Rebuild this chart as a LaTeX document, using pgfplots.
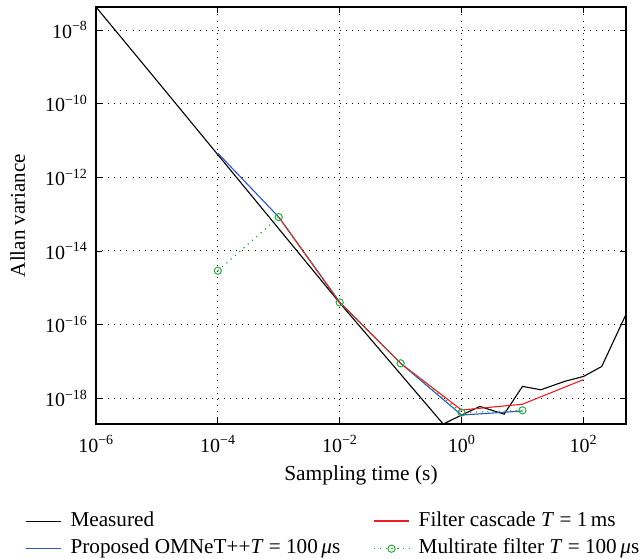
\documentclass[border=0pt]{standalone}
\usepackage{fontspec}
\setmainfont{Liberation Serif}
\usepackage{pgfplots}
\pgfplotsset{compat=1.18}
\definecolor{mblue}{RGB}{45,85,185}
\definecolor{mred}{RGB}{235,30,35}
\definecolor{mgreen}{RGB}{40,170,70}
\begin{document}
\begin{tikzpicture}[font=\fontsize{21}{25}\selectfont]
\begin{axis}[
 xmode=log, ymode=log,
 scale only axis, width=530pt, height=417pt,
 xmin=1e-6, xmax=500, ymin=2e-19, ymax=4.2e-8,
 xtick={1e-6,1e-4,1e-2,1,1e2},
 xticklabels={10\textsuperscript{−6},10\textsuperscript{−4},10\textsuperscript{−2},10\textsuperscript{0},10\textsuperscript{2}},
 ytick={1e-18,1e-16,1e-14,1e-12,1e-10,1e-8},
 yticklabels={10\textsuperscript{−18},10\textsuperscript{−16},10\textsuperscript{−14},10\textsuperscript{−12},10\textsuperscript{−10},10\textsuperscript{−8}},
 ticklabel style={font=\fontsize{20}{24}\selectfont},
 xticklabel style={yshift=-8pt},
 yticklabel style={xshift=-5pt},
 minor xtick={}, minor ytick={},
 grid=major,
 grid style={black, line width=0.9pt, dash pattern=on 0.9pt off 5.2pt},
 axis line style={line width=1.1pt},
 tick style={black, line width=0.8pt},
 major tick length=6pt,
 xlabel={Sampling time (s)},
 xlabel style={at={(axis description cs:0.5,-0.1343)}, anchor=base, font=\fontsize{21.4}{25}\selectfont},
 ylabel={Allan variance},
 ylabel style={at={(axis description cs:-0.134,0.5)}, anchor=base, rotate=0},
 legend columns=2,
 legend style={at={(-0.134,-0.2086)}, anchor=north west, draw=none, fill=none,
   inner sep=0pt,
   font=\fontsize{21.2}{25}\selectfont,
   nodes={inner sep=0pt, text height=15pt, text depth=5pt},
   /tikz/every odd column/.append style={column sep=9pt},
   /tikz/every even column/.append style={column sep=33pt},
   row sep=7.5pt},
 legend cell align=left,
 legend image code/.code={\draw[mark repeat=2,mark phase=2,#1] plot coordinates {(0pt,0pt) (17.5pt,0pt) (35pt,0pt)};},
]
\addlegendimage{black, line width=1.3pt}
\addlegendentry{Measured}
\addlegendimage{color=mred, line width=1.4pt}
\addlegendentry{Filter cascade \textit{T} = 1\,ms}
\addlegendimage{color=mblue, line width=1.4pt}
\addlegendentry{Proposed OMNeT++\textit{T} = 100\,\textit{μ}s}
\addlegendimage{color=mgreen, line width=1.3pt, dash pattern=on 1.3pt off 4.5pt, mark=o, mark size=3.6pt, mark options={solid, line width=1pt, fill=white}}
\addlegendentry{Multirate filter \textit{T} = 100\,\textit{μ}s}
\addplot[black, line width=1.1pt, forget plot] coordinates {
 (1e-6,4.2e-8) (1e-5,4.2e-10) (1e-4,4.1e-12) (1e-3,4.0e-14) (1e-2,3.9e-16)
 (1e-1,4.5e-18) (0.5,2.0e-19) (1,3.5e-19) (2,6e-19) (5,3.7e-19) (10,2.1e-18)
 (20,1.7e-18) (50,2.9e-18) (100,3.9e-18) (200,7.3e-18) (500,1.9e-16)};
\addplot[mblue, line width=1.1pt, forget plot] coordinates {
 (1e-4,4.5e-12) (1e-3,8.3e-14) (1e-2,4.0e-16) (1e-1,8.9e-18) (1,3.5e-19) (10,4.5e-19)};
\addplot[mred, line width=1.1pt, forget plot] coordinates {
 (1e-3,8.3e-14) (1e-2,4.1e-16) (1e-1,8.9e-18) (1,4.8e-19) (10,6.9e-19) (100,3.2e-18)};
\addplot[mgreen, line width=1.2pt, dash pattern=on 1.2pt off 4.5pt, mark=o, mark size=3.6pt, mark options={solid, line width=1pt}, forget plot] coordinates {
 (1e-4,2.9e-15) (1e-3,8.3e-14) (1e-2,4.0e-16) (1e-1,8.9e-18) (1,4.1e-19) (10,4.7e-19)};
\end{axis}
\path ([xshift=-96pt,yshift=7pt]current axis.north west) ([xshift=17pt,yshift=-135pt]current axis.south east);
\end{tikzpicture}
\end{document}
